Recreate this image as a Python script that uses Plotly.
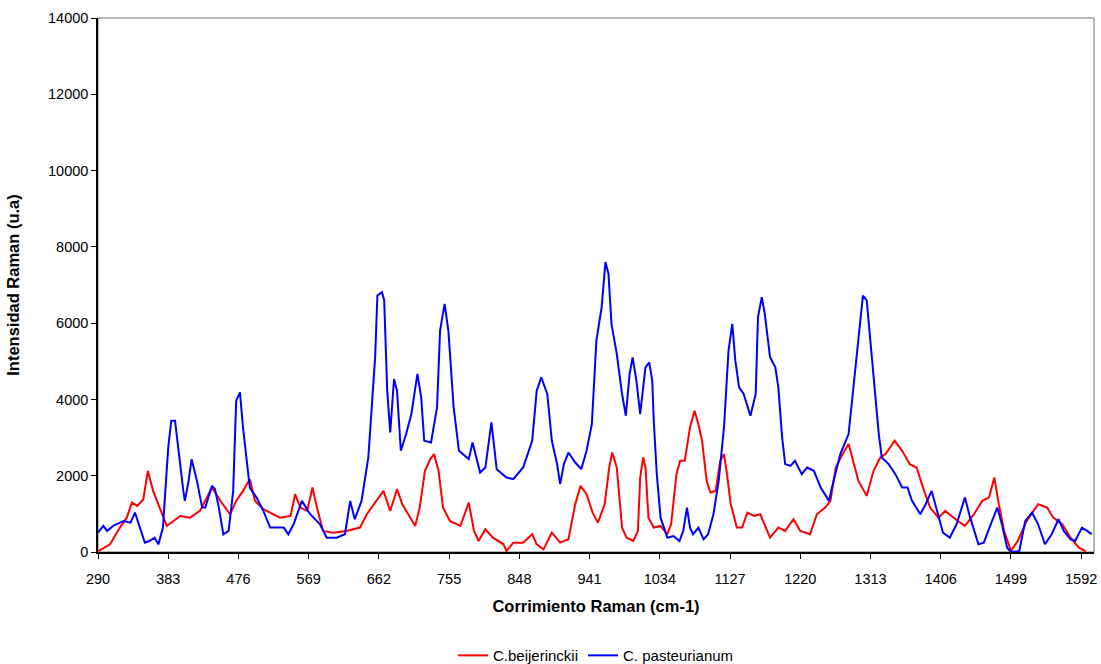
import plotly.graph_objects as go

# C.beijerinckii (red)
beij_x = [290, 306, 319, 328, 335, 342, 350, 356, 363, 372, 381, 399, 412, 425, 441, 452, 465, 473, 482, 491,
          498, 509, 531, 545, 551, 558, 567, 574, 580, 588, 601, 619, 637, 646, 657, 668, 677, 686, 693, 701,
          710, 716, 723, 730, 735, 741, 747, 756, 770, 781, 788, 794, 803, 813, 827, 831, 840, 853, 865, 871,
          880, 891, 902, 913, 922, 929, 937, 945, 952, 961, 967, 971, 977, 984, 990, 999, 1005, 1008, 1012, 1015,
          1019, 1026, 1035, 1044, 1049, 1056, 1061, 1067, 1074, 1080, 1085, 1090, 1096, 1101, 1108, 1114, 1119, 1123, 1128, 1136,
          1143, 1150, 1159, 1167, 1173, 1180, 1191, 1200, 1211, 1220, 1233, 1242, 1253, 1260, 1267, 1276, 1284, 1290, 1297, 1308,
          1317, 1326, 1333, 1345, 1355, 1365, 1374, 1384, 1392, 1403, 1412, 1423, 1438, 1450, 1461, 1470, 1477, 1483, 1490, 1499,
          1508, 1520, 1535, 1547, 1555, 1567, 1578, 1589, 1598]
beij_y = [20, 200, 640, 900, 1295, 1208, 1384, 2128, 1602, 1164, 683, 945, 900, 1077, 1690, 1340, 990, 1340, 1602, 1910,
          1340, 1121, 900, 945, 1515, 1164, 1077, 1690, 1164, 552, 507, 552, 640, 990, 1295, 1602, 1077, 1647, 1252, 990,
          683, 1164, 2128, 2435, 2566, 2128, 1164, 814, 683, 1295, 552, 289, 596, 376, 202, 26, 245, 245, 465, 202,
          70, 507, 245, 333, 1252, 1734, 1515, 1033, 770, 1252, 2215, 2609, 2215, 640, 376, 289, 552, 1952, 2478, 2215,
          900, 640, 683, 465, 727, 2041, 2390, 2390, 3265, 3704, 3354, 2916, 1865, 1558, 1602, 2390, 2566, 2041, 1252, 640,
          640, 1033, 945, 990, 727, 376, 640, 552, 859, 552, 465, 990, 1164, 1340, 2215, 2566, 2829, 2390, 1865, 1471,
          2128, 2478, 2566, 2916, 2653, 2304, 2215, 1602, 1164, 900, 1077, 900, 683, 990, 1340, 1427, 1952, 1252, 552, 26,
          289, 814, 1252, 1164, 900, 727, 376, 113, 20]

# C. pasteurianum (blue)
past_x = [290, 297, 302, 310, 324, 333, 339, 346, 352, 358, 365, 370, 376, 383, 387, 392, 396, 403, 405, 410,
          414, 421, 428, 432, 441, 445, 450, 456, 463, 469, 473, 478, 482, 487, 491, 500, 509, 518, 536, 542,
          549, 560, 571, 584, 593, 606, 617, 624, 630, 639, 648, 657, 660, 666, 669, 673, 677, 682, 686, 691,
          698, 705, 713, 718, 722, 731, 739, 743, 749, 754, 761, 768, 781, 786, 796, 803, 811, 818, 831, 840,
          853, 865, 871, 877, 885, 891, 898, 902, 907, 913, 922, 930, 937, 944, 950, 957, 962, 966, 970, 977,
          984, 989, 994, 998, 1003, 1008, 1015, 1020, 1024, 1026, 1030, 1035, 1044, 1052, 1060, 1065, 1070, 1074, 1078, 1085,
          1092, 1098, 1105, 1112, 1119, 1125, 1130, 1134, 1139, 1145, 1154, 1161, 1164, 1169, 1173, 1180, 1187, 1191, 1196, 1200,
          1207, 1213, 1222, 1229, 1238, 1247, 1258, 1262, 1273, 1284, 1292, 1299, 1303, 1308, 1313, 1319, 1324, 1328, 1337, 1346,
          1355, 1362, 1368, 1379, 1386, 1394, 1401, 1409, 1418, 1427, 1438, 1445, 1456, 1463, 1474, 1481, 1487, 1494, 1499, 1510,
          1518, 1527, 1535, 1544, 1553, 1562, 1569, 1578, 1584, 1593, 1600, 1606]
past_y = [507, 683, 552, 683, 814, 770, 1033, 640, 245, 289, 376, 200, 640, 2740, 3441, 3441, 2740, 1602, 1340, 1865,
          2435, 1865, 1164, 1164, 1734, 1647, 1164, 465, 552, 1602, 3967, 4185, 3265, 2390, 1690, 1427, 1077, 640, 640, 465,
          727, 1340, 990, 727, 376, 376, 465, 1340, 859, 1340, 2478, 5105, 6725, 6812, 6600, 4230, 3135, 4537, 4230, 2653,
          3092, 3617, 4668, 4054, 2916, 2871, 3791, 5806, 6507, 5806, 3791, 2653, 2435, 2871, 2083, 2215, 3397, 2172, 1952, 1910,
          2215, 2916, 4230, 4580, 4143, 2916, 2304, 1778, 2304, 2609, 2346, 2172, 2653, 3354, 5543, 6419, 7600, 7295, 5982, 5193,
          4143, 3573, 4668, 5104, 4492, 3617, 4842, 4973, 4492, 3441, 2041, 900, 376, 420, 289, 552, 1164, 640, 465, 640,
          333, 465, 990, 1865, 3265, 5280, 5982, 5017, 4317, 4143, 3573, 4143, 6156, 6681, 6244, 5104, 4842, 4317, 3003, 2304,
          2259, 2390, 2041, 2215, 2128, 1690, 1340, 1690, 2566, 3092, 4668, 5982, 6725, 6594, 5543, 4230, 3092, 2478, 2304, 2041,
          1690, 1690, 1340, 990, 1252, 1602, 1077, 507, 376, 727, 1427, 900, 202, 245, 814, 1164, 727, 113, 0, 26,
          814, 1033, 727, 202, 465, 859, 552, 333, 289, 640, 552, 465]

x_ticks = [290, 383, 476, 569, 662, 755, 848, 941, 1034, 1127, 1220, 1313, 1406, 1499, 1592]
y_ticks = [0, 2000, 4000, 6000, 8000, 10000, 12000, 14000]

font_family = "Liberation Sans, Arial, sans-serif"

fig = go.Figure()
fig.add_trace(go.Scatter(x=beij_x, y=beij_y, mode="lines", name="C.beijerinckii",
                         line=dict(color="#FF0000", width=2)))
fig.add_trace(go.Scatter(x=past_x, y=past_y, mode="lines", name="C. pasteurianum",
                         line=dict(color="#0000FF", width=2)))

fig.add_shape(type="rect", xref="paper", yref="paper", x0=0, x1=1, y0=0, y1=1,
              line=dict(color="#A0A0A0", width=1.5), layer="below")

fig.update_layout(
    width=1101, height=664,
    margin=dict(l=98, r=7, t=18, b=112, autoexpand=False),
    paper_bgcolor="white", plot_bgcolor="white",
    font=dict(family=font_family, size=14, color="black"),
    showlegend=True,
    legend=dict(orientation="h", x=0.5, xanchor="center", y=-0.194, yanchor="middle",
                font=dict(size=15), itemwidth=30, tracegroupgap=0),
    hovermode=False,
)
fig.update_xaxes(range=[290, 1609], tickvals=x_ticks, ticktext=[str(v) for v in x_ticks],
                 showline=True, linecolor="black", linewidth=1.5, ticks="outside", ticklen=5,
                 tickcolor="black", showgrid=False, zeroline=False, automargin=False,
                 ticklabelstandoff=8,
                 title=dict(text="<b>Corrimiento Raman (cm-1)</b>", font=dict(size=16.5), standoff=14),
                 tickfont=dict(size=14.5))
fig.update_yaxes(range=[0, 14000], tickvals=y_ticks, ticktext=[str(v) for v in y_ticks],
                 showline=True, linecolor="black", linewidth=1.5, ticks="outside", ticklen=5,
                 tickcolor="black", showgrid=False, zeroline=False, automargin=False,
                 title=dict(text="<b>Intensidad Raman (u.a)</b>", font=dict(size=16.5), standoff=24),
                 tickfont=dict(size=14.5))

fig.write_html("out.html")
